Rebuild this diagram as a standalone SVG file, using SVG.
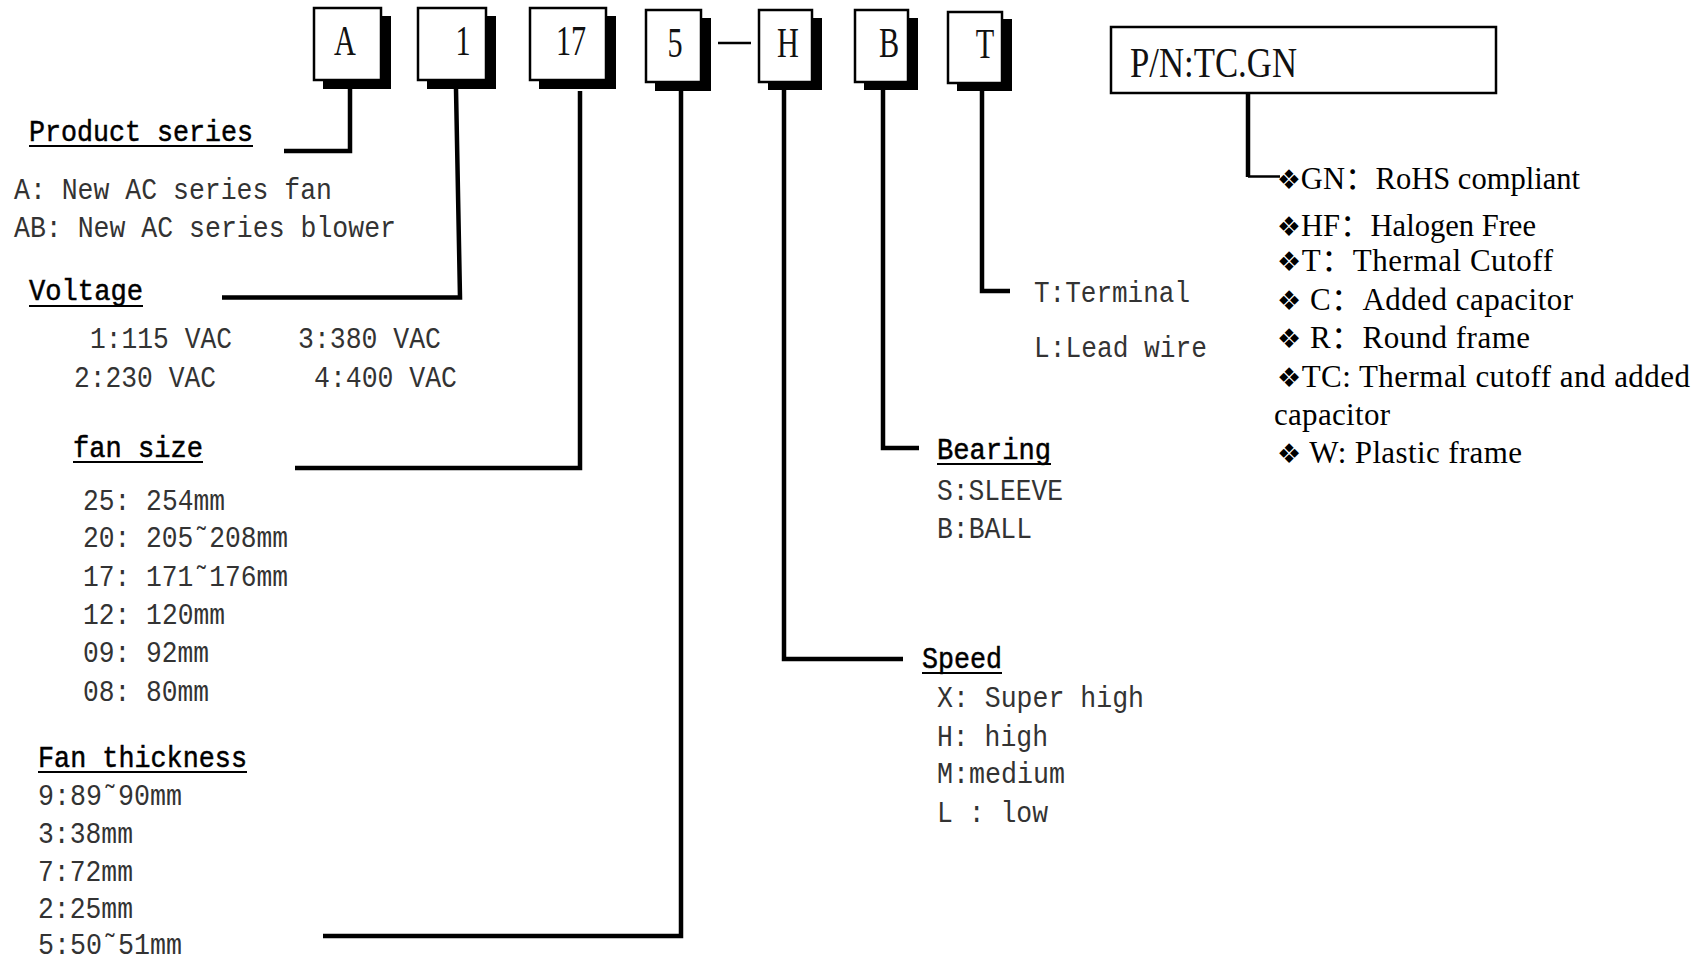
<svg xmlns="http://www.w3.org/2000/svg" width="1707" height="963" viewBox="0 0 1707 963">
<style>
.bg{fill:#fff}
.box{fill:#fff;stroke:#000;stroke-width:2.5}
.shadow{fill:#000}
.code{font-family:"Liberation Serif",serif;font-size:42px;fill:#111;text-anchor:middle}
.conn{fill:none;stroke:#000;stroke-width:4.5;stroke-linejoin:miter}
.thin{fill:none;stroke:#000;stroke-width:2.5}
.head{font-family:"Liberation Mono",monospace;font-size:30px;fill:#000;stroke:#000;stroke-width:0.5}
.item{font-family:"Liberation Mono",monospace;font-size:30px;fill:#333}
.ul{stroke:#000;stroke-width:2}
.opt{font-family:"Liberation Serif","Noto Sans CJK SC",serif;font-size:31px;fill:#000}
.dia{font-family:"DejaVu Sans",sans-serif;font-size:27px}
.pn{font-family:"Liberation Serif",serif;font-size:43px;fill:#111}
</style>
<rect class="bg" x="0" y="0" width="1707" height="963"/>

<g id="connectors">
<path class="conn" d="M350,89 L350,151 L284,151"/>
<path class="conn" d="M456,89 L460,297.5 L222,297.5"/>
<path class="conn" d="M580,91 L580,468 L295,468"/>
<path class="conn" d="M681,91 L681,936 L323,936"/>
<path class="conn" d="M784,90 L784,659 L903,659"/>
<path class="conn" d="M883,90 L883,448 L919,448"/>
<path class="conn" d="M982,91 L982,291 L1010,291"/>
<path class="conn" d="M1248,93 L1248,177"/>
<path class="thin" d="M1248,176.5 L1280,176.5"/>
<line class="thin" x1="718" y1="43" x2="751" y2="43"/>
</g>

<g id="box-A">
<rect class="shadow" x="323" y="16" width="68" height="73"/>
<rect class="box" x="314" y="8" width="67" height="72"/>
<text class="code" transform="translate(345,55) scale(0.72,1)">A</text>
</g>
<g id="box-1">
<rect class="shadow" x="427" y="16" width="69" height="73"/>
<rect class="box" x="418" y="8" width="68" height="72"/>
<text class="code" transform="translate(463,55) scale(0.72,1)">1</text>
</g>
<g id="box-17">
<rect class="shadow" x="539" y="16" width="77" height="73"/>
<rect class="box" x="530" y="8" width="76" height="72"/>
<text class="code" transform="translate(571,55) scale(0.72,1)">17</text>
</g>
<g id="box-5">
<rect class="shadow" x="655" y="18" width="56" height="73"/>
<rect class="box" x="646" y="10" width="55" height="72"/>
<text class="code" transform="translate(675,57) scale(0.72,1)">5</text>
</g>
<g id="box-H">
<rect class="shadow" x="768" y="18" width="54" height="72"/>
<rect class="box" x="759" y="10" width="53" height="72"/>
<text class="code" transform="translate(788,57) scale(0.72,1)">H</text>
</g>
<g id="box-B">
<rect class="shadow" x="864" y="18" width="54" height="72"/>
<rect class="box" x="855" y="10" width="53" height="72"/>
<text class="code" transform="translate(889,57) scale(0.72,1)">B</text>
</g>
<g id="box-T">
<rect class="shadow" x="957" y="19" width="55" height="72"/>
<rect class="box" x="948" y="12" width="54" height="71"/>
<text class="code" transform="translate(985,58) scale(0.72,1)">T</text>
</g>

<g id="pn-box">
<rect class="box" x="1111" y="27" width="385" height="66"/>
<text class="pn" x="1130" y="77" textLength="167" lengthAdjust="spacingAndGlyphs">P/N:TC.GN</text>
</g>

<g id="product-series">
<text class="head" x="29" y="141" textLength="224" lengthAdjust="spacingAndGlyphs">Product series</text>
<line class="ul" x1="29" y1="146" x2="253" y2="146"/>
<text class="item" x="14" y="199" textLength="318" lengthAdjust="spacingAndGlyphs">A: New AC series fan</text>
<text class="item" x="14" y="237" textLength="382" lengthAdjust="spacingAndGlyphs">AB: New AC series blower</text>
</g>

<g id="voltage">
<text class="head" x="29" y="300" textLength="114" lengthAdjust="spacingAndGlyphs">Voltage</text>
<line class="ul" x1="29" y1="306" x2="143" y2="306"/>
<text class="item" x="90" y="348" textLength="142" lengthAdjust="spacingAndGlyphs">1:115 VAC</text>
<text class="item" x="298" y="348" textLength="143" lengthAdjust="spacingAndGlyphs">3:380 VAC</text>
<text class="item" x="74" y="387" textLength="142" lengthAdjust="spacingAndGlyphs">2:230 VAC</text>
<text class="item" x="314" y="387" textLength="143" lengthAdjust="spacingAndGlyphs">4:400 VAC</text>
</g>

<g id="fan-size">
<text class="head" x="73" y="457" textLength="130" lengthAdjust="spacingAndGlyphs">fan size</text>
<line class="ul" x1="73" y1="462" x2="203" y2="462"/>
<text class="item" x="83" y="510" textLength="142" lengthAdjust="spacingAndGlyphs">25: 254mm</text>
<text class="item" x="83" y="547" textLength="205" lengthAdjust="spacingAndGlyphs">20: 205˜208mm</text>
<text class="item" x="83" y="586" textLength="205" lengthAdjust="spacingAndGlyphs">17: 171˜176mm</text>
<text class="item" x="83" y="624" textLength="142" lengthAdjust="spacingAndGlyphs">12: 120mm</text>
<text class="item" x="83" y="662" textLength="126" lengthAdjust="spacingAndGlyphs">09: 92mm</text>
<text class="item" x="83" y="701" textLength="126" lengthAdjust="spacingAndGlyphs">08: 80mm</text>
</g>

<g id="fan-thickness">
<text class="head" x="38" y="767" textLength="209" lengthAdjust="spacingAndGlyphs">Fan thickness</text>
<line class="ul" x1="38" y1="772" x2="247" y2="772"/>
<text class="item" x="38" y="805" textLength="144" lengthAdjust="spacingAndGlyphs">9:89˜90mm</text>
<text class="item" x="38" y="843" textLength="95" lengthAdjust="spacingAndGlyphs">3:38mm</text>
<text class="item" x="38" y="881" textLength="95" lengthAdjust="spacingAndGlyphs">7:72mm</text>
<text class="item" x="38" y="918" textLength="95" lengthAdjust="spacingAndGlyphs">2:25mm</text>
<text class="item" x="38" y="954" textLength="144" lengthAdjust="spacingAndGlyphs">5:50˜51mm</text>
</g>

<g id="terminal">
<text class="item" x="1034" y="302" textLength="156" lengthAdjust="spacingAndGlyphs">T:Terminal</text>
<text class="item" x="1034" y="357" textLength="173" lengthAdjust="spacingAndGlyphs">L:Lead wire</text>
</g>

<g id="bearing">
<text class="head" x="937" y="459" textLength="114" lengthAdjust="spacingAndGlyphs">Bearing</text>
<line class="ul" x1="937" y1="464" x2="1051" y2="464"/>
<text class="item" x="937" y="500" textLength="126" lengthAdjust="spacingAndGlyphs">S:SLEEVE</text>
<text class="item" x="937" y="538" textLength="95" lengthAdjust="spacingAndGlyphs">B:BALL</text>
</g>

<g id="speed">
<text class="head" x="922" y="668" textLength="80" lengthAdjust="spacingAndGlyphs">Speed</text>
<line class="ul" x1="922" y1="673" x2="1002" y2="673"/>
<text class="item" x="937" y="707" textLength="207" lengthAdjust="spacingAndGlyphs">X: Super high</text>
<text class="item" x="937" y="746" textLength="111" lengthAdjust="spacingAndGlyphs">H: high</text>
<text class="item" x="937" y="783" textLength="128" lengthAdjust="spacingAndGlyphs">M:medium</text>
<text class="item" x="937" y="822" textLength="111" lengthAdjust="spacingAndGlyphs">L : low</text>
</g>

<g id="options">
<text class="opt" x="1277" y="189" font-size="33" textLength="303" lengthAdjust="spacingAndGlyphs"><tspan class="dia">❖</tspan>GN：RoHS compliant</text>
<text class="opt" x="1277" y="236" font-size="33" textLength="259" lengthAdjust="spacingAndGlyphs"><tspan class="dia">❖</tspan>HF：Halogen Free</text>
<text class="opt" x="1277" y="271" textLength="276" lengthAdjust="spacing"><tspan class="dia">❖</tspan>T：Thermal Cutoff</text>
<text class="opt" x="1277" y="310" textLength="296" lengthAdjust="spacing"><tspan class="dia">❖</tspan> C：Added capacitor</text>
<text class="opt" x="1277" y="348" textLength="253" lengthAdjust="spacing"><tspan class="dia">❖</tspan> R：Round frame</text>
<text class="opt" x="1277" y="387" textLength="413" lengthAdjust="spacing"><tspan class="dia">❖</tspan>TC: Thermal cutoff and added</text>
<text class="opt" x="1274" y="425" textLength="116" lengthAdjust="spacing">capacitor</text>
<text class="opt" x="1277" y="463" textLength="245" lengthAdjust="spacing"><tspan class="dia">❖</tspan> W: Plastic frame</text>
</g>
</svg>
